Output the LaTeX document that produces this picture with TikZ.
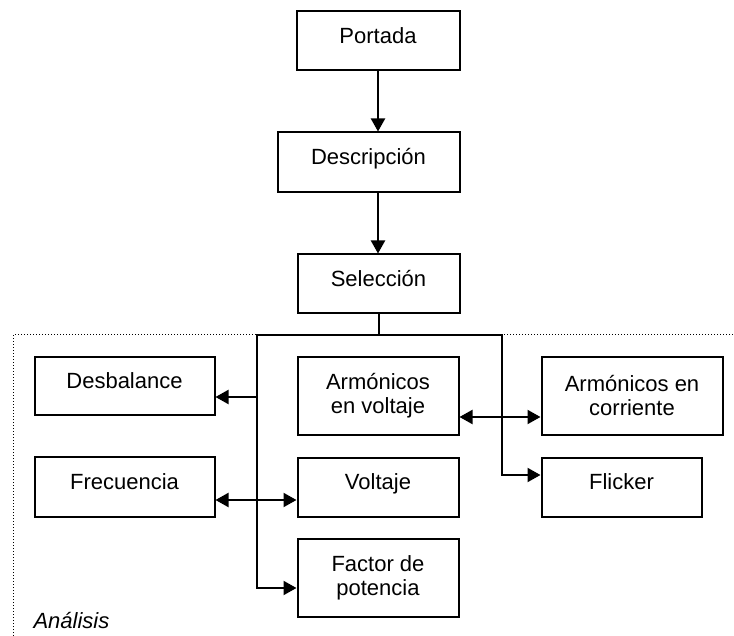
\documentclass[tikz,border=0pt]{standalone}
\usepackage{fontspec}
\setmainfont{Liberation Sans}
\usetikzlibrary{arrows.meta}
\begin{document}
\begin{tikzpicture}[x=1pt,y=-1pt,
  every node/.style={font=\fontsize{22}{24}\selectfont},
  box/.style={draw, line width=2pt, inner sep=0pt, align=center},
  oneline/.style={text height=16pt, text depth=11pt},
  link/.style={line width=2pt},
  tip/.style={-{Triangle[length=13pt,width=14pt]}},
  twotips/.style={{Triangle[length=13pt,width=14pt]}-{Triangle[length=13pt,width=14pt]}},
  frame/.style={line width=1pt, dash pattern=on 1pt off 2pt}]
\useasboundingbox (0,0) rectangle (734,636);

% analysis region (open frame)
\draw[frame] (13,636) -- (13,335) -- (734,335);
\node[anchor=base west, font=\fontsize{22}{24}\selectfont\itshape] (analisis) at (30,628) {Análisis};

% main sequence
\node[box, oneline, minimum width=163pt, minimum height=59pt] (portada) at (378,41) {Portada};
\node[box, oneline, minimum width=182pt, minimum height=60pt] (descripcion) at (368.5,162.5) {Descripción};
\node[box, oneline, minimum width=162pt, minimum height=59pt] (seleccion) at (378.5,284) {Selección};

% analysis modules
\node[box, oneline, minimum width=180pt, minimum height=57pt] (desbalance) at (124.5,386) {Desbalance};
\node[box, oneline, minimum width=180pt, minimum height=60pt] (frecuencia) at (124.5,486.5) {Frecuencia};
\node[box, minimum width=161pt, minimum height=77pt] (armv) at (378,396) {Armónicos\\en voltaje};
\node[box, oneline, minimum width=161pt, minimum height=59pt] (voltaje) at (378,487) {Voltaje};
\node[box, minimum width=161pt, minimum height=78pt] (factor) at (378,577.5) {Factor de\\potencia};
\node[box, minimum width=181pt, minimum height=77pt] (armc) at (632,396) {Armónicos en\\corriente};
\node[box, oneline, minimum width=160pt, minimum height=59pt] (flicker) at (621.5,487) {Flicker};

% bus and junction points
\coordinate (busL) at (257,335);
\coordinate (busR) at (502,335);
\coordinate (jD) at (257,397);
\coordinate (jF) at (257,500);
\coordinate (jP) at (257,588);
\coordinate (jA) at (502,417);
\coordinate (jK) at (502,475);

% connectors
\draw[link, tip] (portada.south) -- (portada.south |- descripcion.north);
\draw[link, tip] (portada.south |- descripcion.south) -- (portada.south |- seleccion.north);
\draw[link] (seleccion.south) -- (seleccion.south |- busL);
\draw[link, line cap=rect] (busL) -- (busR);
\draw[link, tip] (busL) -- (jP) -- (jP -| factor.west);
\draw[link, tip] (busR) -- (jK) -- (jK -| flicker.west);
\draw[link, tip] (jD) -- (jD -| desbalance.east);
\draw[link, twotips] (jF -| frecuencia.east) -- (jF -| voltaje.west);
\draw[link, twotips] (jA -| armv.east) -- (jA -| armc.west);
\end{tikzpicture}
\end{document}
